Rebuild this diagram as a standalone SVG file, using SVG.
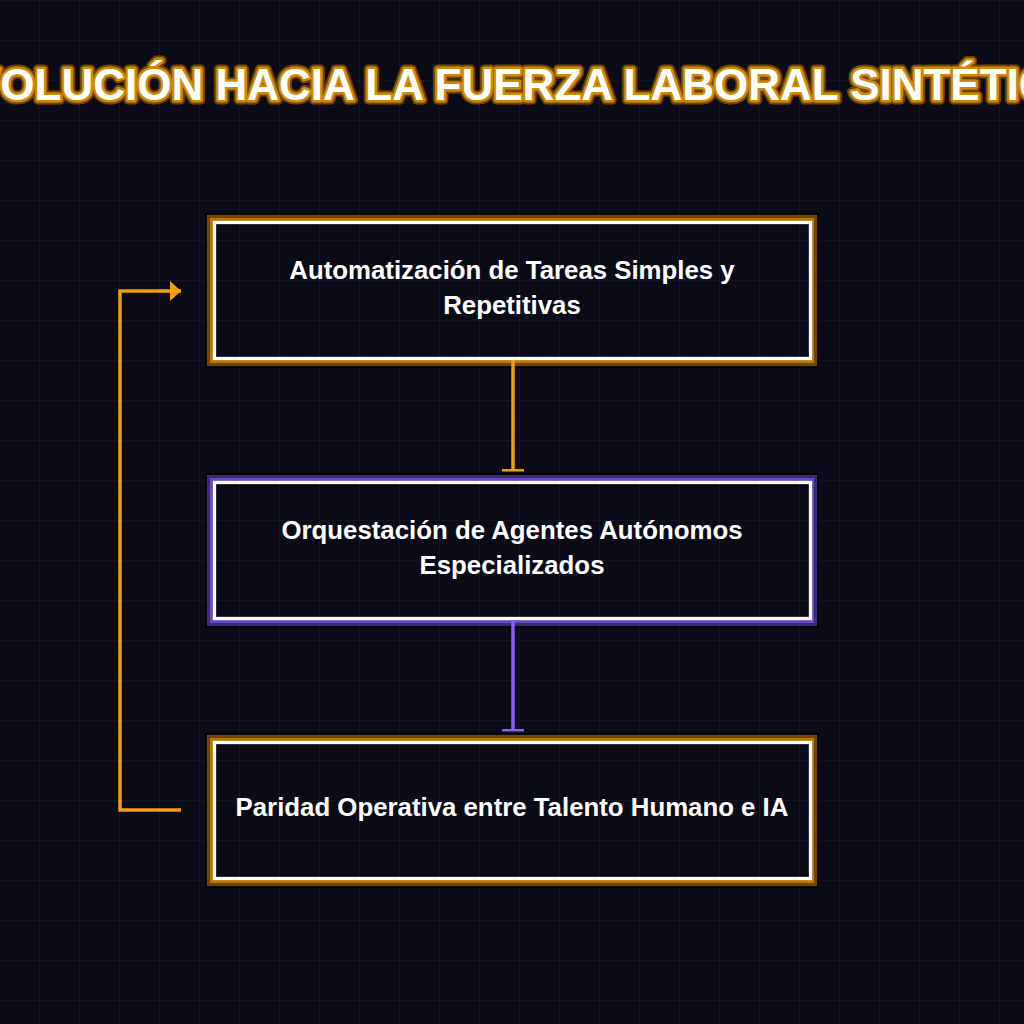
<svg xmlns="http://www.w3.org/2000/svg" width="1024" height="1024" viewBox="0 0 1024 1024">
  <defs>
    <pattern id="grid" width="40" height="40" patternUnits="userSpaceOnUse">
      <path d="M40 0V40M0 0H40" fill="none" stroke="#1b1b30" stroke-width="1"/>
    </pattern>
    <marker id="arrowO" viewBox="0 0 11 20" refX="11" refY="10" markerWidth="11" markerHeight="20" markerUnits="userSpaceOnUse" orient="auto">
      <path d="M0 0L11 10L0 20Z" fill="#f59e0b"/>
    </marker>
    <marker id="barO" viewBox="0 0 4 22" refX="2" refY="11" markerWidth="4" markerHeight="22" markerUnits="userSpaceOnUse" orient="auto">
      <rect x="0" y="0" width="3" height="22" fill="#f59e0b"/>
    </marker>
    <marker id="barP" viewBox="0 0 4 22" refX="2" refY="11" markerWidth="4" markerHeight="22" markerUnits="userSpaceOnUse" orient="auto">
      <rect x="0" y="0" width="3" height="22" fill="#8b5cf6"/>
    </marker>
  </defs>
  <style>
    .title { font-family: "Liberation Sans", Arial, sans-serif; font-weight: bold; font-size: 44px; }
    .lbl { font-family: "Liberation Sans", Arial, sans-serif; font-weight: bold; font-size: 25.8px; fill: #ffffff; text-anchor: middle; }
    .b0 { fill: none; stroke: #000000; stroke-width: 2; }
    .inner { fill: none; stroke: #ffffff; stroke-width: 3.3; }
    .o1 { fill: none; stroke: #6e4500; stroke-width: 3.3; }
    .o2 { fill: none; stroke: #bb7807; stroke-width: 3; }
    .p1 { fill: none; stroke: #3b2a78; stroke-width: 3.3; }
    .p2 { fill: none; stroke: #6a4bc0; stroke-width: 3; }
    .conn { fill: none; stroke-width: 3.5; }
  </style>
  <rect width="1024" height="1024" fill="#0b0b18"/>
  <rect width="1024" height="1024" fill="url(#grid)"/>

  <g id="title">
    <text class="title" x="512" y="100" text-anchor="middle" fill="none" stroke="#6e4500" stroke-width="9" stroke-linejoin="round">EVOLUCIÓN HACIA LA FUERZA LABORAL SINTÉTICA</text>
    <text class="title" x="512" y="100" text-anchor="middle" fill="none" stroke="#d08a0a" stroke-width="5" stroke-linejoin="round">EVOLUCIÓN HACIA LA FUERZA LABORAL SINTÉTICA</text>
    <text class="title" x="512" y="100" text-anchor="middle" fill="#ffffff">EVOLUCIÓN HACIA LA FUERZA LABORAL SINTÉTICA</text>
  </g>

  <g id="node1">
    <rect class="b0" x="206" y="214" width="612" height="153"/>
    <rect class="o1" x="208.5" y="216.5" width="607" height="148"/>
    <rect class="o2" x="211.5" y="219.5" width="601" height="142"/>
    <rect class="inner" x="214.5" y="222.5" width="596" height="136"/>
    <text class="lbl" x="512" y="279">Automatización de Tareas Simples y</text>
    <text class="lbl" x="512" y="314">Repetitivas</text>
  </g>

  <g id="node2">
    <rect class="b0" x="206" y="474" width="612" height="153"/>
    <rect class="p1" x="208.5" y="476.5" width="607" height="148"/>
    <rect class="p2" x="211.5" y="479.5" width="601" height="142"/>
    <rect class="inner" x="214.5" y="482.5" width="596" height="136"/>
    <text class="lbl" x="512" y="539">Orquestación de Agentes Autónomos</text>
    <text class="lbl" x="512" y="574">Especializados</text>
  </g>

  <g id="node3">
    <rect class="b0" x="206" y="734" width="612" height="153"/>
    <rect class="o1" x="208.5" y="736.5" width="607" height="148"/>
    <rect class="o2" x="211.5" y="739.5" width="601" height="142"/>
    <rect class="inner" x="214.5" y="742.5" width="596" height="136"/>
    <text class="lbl" x="512" y="816">Paridad Operativa entre Talento Humano e IA</text>
  </g>

  <g id="connectors">
    <line class="conn" x1="513" y1="360" x2="513" y2="470.5" stroke="#f59e0b" marker-end="url(#barO)"/>
    <line class="conn" x1="513" y1="620" x2="513" y2="730.5" stroke="#8b5cf6" marker-end="url(#barP)"/>
    <path class="conn" d="M181 810H120V291H181" stroke="#f59e0b" stroke-width="3.5" marker-end="url(#arrowO)"/>
  </g>
</svg>
